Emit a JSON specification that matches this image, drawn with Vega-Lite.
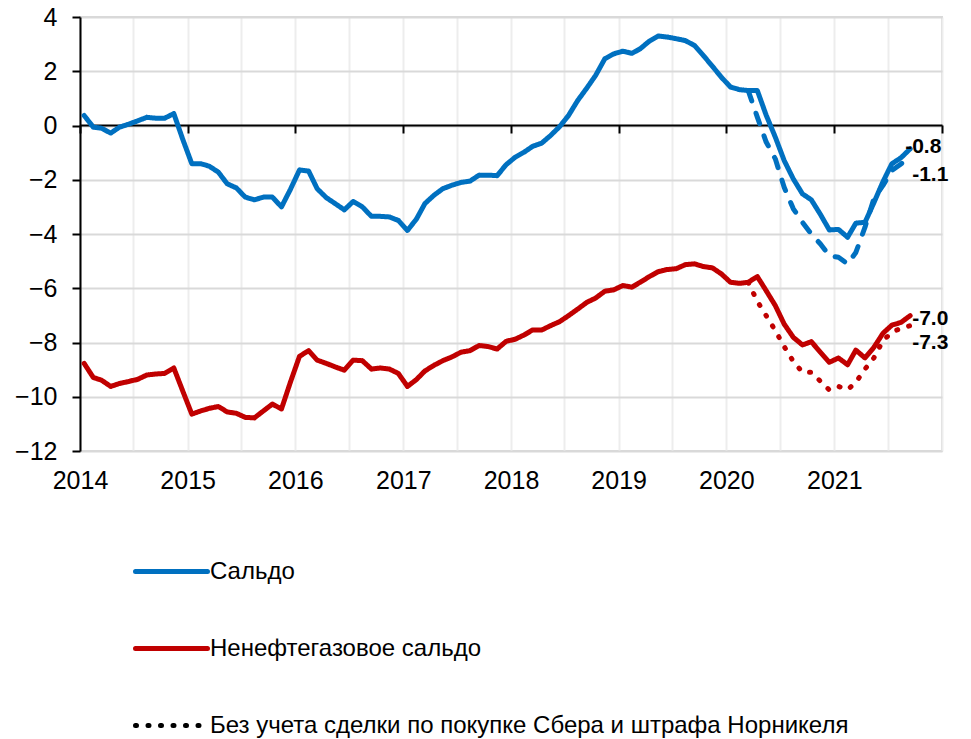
{
  "$schema": "https://vega.github.io/schema/vega-lite/v6.json",
  "width": 862,
  "height": 434,
  "autosize": "none",
  "padding": {"left": 80, "top": 17, "right": 29, "bottom": 288},
  "config": {
    "font": "Liberation Sans",
    "view": {"stroke": "#d9d9d9", "strokeWidth": 2},
    "axis": {"labelColor": "black", "labelFont": "Liberation Sans", "labelFontSize": 25, "title": null}
  },
  "datasets": {
    "main": [
      {"d":"2014-01-15","k":"Сальдо","v":0.37},{"d":"2014-02-15","k":"Сальдо","v":-0.06},{"d":"2014-03-15","k":"Сальдо","v":-0.1},{"d":"2014-04-15","k":"Сальдо","v":-0.28},{"d":"2014-05-15","k":"Сальдо","v":-0.06},{"d":"2014-06-15","k":"Сальдо","v":0.05},{"d":"2014-07-15","k":"Сальдо","v":0.17},{"d":"2014-08-15","k":"Сальдо","v":0.3},{"d":"2014-09-15","k":"Сальдо","v":0.27},{"d":"2014-10-15","k":"Сальдо","v":0.27},{"d":"2014-11-15","k":"Сальдо","v":0.44},{"d":"2014-12-15","k":"Сальдо","v":-0.5},
      {"d":"2015-01-15","k":"Сальдо","v":-1.41},{"d":"2015-02-15","k":"Сальдо","v":-1.41},{"d":"2015-03-15","k":"Сальдо","v":-1.5},{"d":"2015-04-15","k":"Сальдо","v":-1.72},{"d":"2015-05-15","k":"Сальдо","v":-2.15},{"d":"2015-06-15","k":"Сальдо","v":-2.3},{"d":"2015-07-15","k":"Сальдо","v":-2.64},{"d":"2015-08-15","k":"Сальдо","v":-2.74},{"d":"2015-09-15","k":"Сальдо","v":-2.64},{"d":"2015-10-15","k":"Сальдо","v":-2.64},{"d":"2015-11-15","k":"Сальдо","v":-3.0},{"d":"2015-12-15","k":"Сальдо","v":-2.36},
      {"d":"2016-01-15","k":"Сальдо","v":-1.64},{"d":"2016-02-15","k":"Сальдо","v":-1.68},{"d":"2016-03-15","k":"Сальдо","v":-2.33},{"d":"2016-04-15","k":"Сальдо","v":-2.66},{"d":"2016-05-15","k":"Сальдо","v":-2.88},{"d":"2016-06-15","k":"Сальдо","v":-3.11},{"d":"2016-07-15","k":"Сальдо","v":-2.8},{"d":"2016-08-15","k":"Сальдо","v":-3.0},{"d":"2016-09-15","k":"Сальдо","v":-3.35},{"d":"2016-10-15","k":"Сальдо","v":-3.35},{"d":"2016-11-15","k":"Сальдо","v":-3.37},{"d":"2016-12-15","k":"Сальдо","v":-3.5},
      {"d":"2017-01-15","k":"Сальдо","v":-3.87},{"d":"2017-02-15","k":"Сальдо","v":-3.44},{"d":"2017-03-15","k":"Сальдо","v":-2.88},{"d":"2017-04-15","k":"Сальдо","v":-2.57},{"d":"2017-05-15","k":"Сальдо","v":-2.33},{"d":"2017-06-15","k":"Сальдо","v":-2.2},{"d":"2017-07-15","k":"Сальдо","v":-2.1},{"d":"2017-08-15","k":"Сальдо","v":-2.05},{"d":"2017-09-15","k":"Сальдо","v":-1.83},{"d":"2017-10-15","k":"Сальдо","v":-1.83},{"d":"2017-11-15","k":"Сальдо","v":-1.85},{"d":"2017-12-15","k":"Сальдо","v":-1.45},
      {"d":"2018-01-15","k":"Сальдо","v":-1.17},{"d":"2018-02-15","k":"Сальдо","v":-0.98},{"d":"2018-03-15","k":"Сальдо","v":-0.77},{"d":"2018-04-15","k":"Сальдо","v":-0.65},{"d":"2018-05-15","k":"Сальдо","v":-0.37},{"d":"2018-06-15","k":"Сальдо","v":-0.04},{"d":"2018-07-15","k":"Сальдо","v":0.37},{"d":"2018-08-15","k":"Сальдо","v":0.92},{"d":"2018-09-15","k":"Сальдо","v":1.38},{"d":"2018-10-15","k":"Сальдо","v":1.85},{"d":"2018-11-15","k":"Сальдо","v":2.46},{"d":"2018-12-15","k":"Сальдо","v":2.64},
      {"d":"2019-01-15","k":"Сальдо","v":2.74},{"d":"2019-02-15","k":"Сальдо","v":2.66},{"d":"2019-03-15","k":"Сальдо","v":2.83},{"d":"2019-04-15","k":"Сальдо","v":3.11},{"d":"2019-05-15","k":"Сальдо","v":3.3},{"d":"2019-06-15","k":"Сальдо","v":3.26},{"d":"2019-07-15","k":"Сальдо","v":3.2},{"d":"2019-08-15","k":"Сальдо","v":3.13},{"d":"2019-09-15","k":"Сальдо","v":2.95},{"d":"2019-10-15","k":"Сальдо","v":2.58},{"d":"2019-11-15","k":"Сальдо","v":2.18},{"d":"2019-12-15","k":"Сальдо","v":1.78},
      {"d":"2020-01-15","k":"Сальдо","v":1.42},{"d":"2020-02-15","k":"Сальдо","v":1.32},{"d":"2020-03-15","k":"Сальдо","v":1.29},{"d":"2020-04-15","k":"Сальдо","v":1.29},{"d":"2020-05-15","k":"Сальдо","v":0.38},{"d":"2020-06-15","k":"Сальдо","v":-0.43},{"d":"2020-07-15","k":"Сальдо","v":-1.29},{"d":"2020-08-15","k":"Сальдо","v":-1.97},{"d":"2020-09-15","k":"Сальдо","v":-2.52},{"d":"2020-10-15","k":"Сальдо","v":-2.74},{"d":"2020-11-15","k":"Сальдо","v":-3.28},{"d":"2020-12-15","k":"Сальдо","v":-3.85},
      {"d":"2021-01-15","k":"Сальдо","v":-3.83},{"d":"2021-02-15","k":"Сальдо","v":-4.12},{"d":"2021-03-15","k":"Сальдо","v":-3.6},{"d":"2021-04-15","k":"Сальдо","v":-3.57},{"d":"2021-05-15","k":"Сальдо","v":-2.85},{"d":"2021-06-15","k":"Сальдо","v":-2.07},{"d":"2021-07-15","k":"Сальдо","v":-1.41},{"d":"2021-08-15","k":"Сальдо","v":-1.19},{"d":"2021-09-15","k":"Сальдо","v":-0.86},

      {"d":"2014-01-15","k":"Ненефтегазовое сальдо","v":-8.77},{"d":"2014-02-15","k":"Ненефтегазовое сальдо","v":-9.29},{"d":"2014-03-15","k":"Ненефтегазовое сальдо","v":-9.39},{"d":"2014-04-15","k":"Ненефтегазовое сальдо","v":-9.62},{"d":"2014-05-15","k":"Ненефтегазовое сальдо","v":-9.51},{"d":"2014-06-15","k":"Ненефтегазовое сальдо","v":-9.44},{"d":"2014-07-15","k":"Ненефтегазовое сальдо","v":-9.36},{"d":"2014-08-15","k":"Ненефтегазовое сальдо","v":-9.2},{"d":"2014-09-15","k":"Ненефтегазовое сальдо","v":-9.16},{"d":"2014-10-15","k":"Ненефтегазовое сальдо","v":-9.14},{"d":"2014-11-15","k":"Ненефтегазовое сальдо","v":-8.94},{"d":"2014-12-15","k":"Ненефтегазовое сальдо","v":-9.78},
      {"d":"2015-01-15","k":"Ненефтегазовое сальдо","v":-10.64},{"d":"2015-02-15","k":"Ненефтегазовое сальдо","v":-10.52},{"d":"2015-03-15","k":"Ненефтегазовое сальдо","v":-10.43},{"d":"2015-04-15","k":"Ненефтегазовое сальдо","v":-10.36},{"d":"2015-05-15","k":"Ненефтегазовое сальдо","v":-10.56},{"d":"2015-06-15","k":"Ненефтегазовое сальдо","v":-10.61},{"d":"2015-07-15","k":"Ненефтегазовое сальдо","v":-10.76},{"d":"2015-08-15","k":"Ненефтегазовое сальдо","v":-10.78},{"d":"2015-09-15","k":"Ненефтегазовое сальдо","v":-10.52},{"d":"2015-10-15","k":"Ненефтегазовое сальдо","v":-10.27},{"d":"2015-11-15","k":"Ненефтегазовое сальдо","v":-10.45},{"d":"2015-12-15","k":"Ненефтегазовое сальдо","v":-9.47},
      {"d":"2016-01-15","k":"Ненефтегазовое сальдо","v":-8.51},{"d":"2016-02-15","k":"Ненефтегазовое сальдо","v":-8.3},{"d":"2016-03-15","k":"Ненефтегазовое сальдо","v":-8.65},{"d":"2016-04-15","k":"Ненефтегазовое сальдо","v":-8.77},{"d":"2016-05-15","k":"Ненефтегазовое сальдо","v":-8.9},{"d":"2016-06-15","k":"Ненефтегазовое сальдо","v":-9.02},{"d":"2016-07-15","k":"Ненефтегазовое сальдо","v":-8.65},{"d":"2016-08-15","k":"Ненефтегазовое сальдо","v":-8.67},{"d":"2016-09-15","k":"Ненефтегазовое сальдо","v":-8.98},{"d":"2016-10-15","k":"Ненефтегазовое сальдо","v":-8.94},{"d":"2016-11-15","k":"Ненефтегазовое сальдо","v":-8.98},{"d":"2016-12-15","k":"Ненефтегазовое сальдо","v":-9.14},
      {"d":"2017-01-15","k":"Ненефтегазовое сальдо","v":-9.62},{"d":"2017-02-15","k":"Ненефтегазовое сальдо","v":-9.36},{"d":"2017-03-15","k":"Ненефтегазовое сальдо","v":-9.05},{"d":"2017-04-15","k":"Ненефтегазовое сальдо","v":-8.84},{"d":"2017-05-15","k":"Ненефтегазовое сальдо","v":-8.67},{"d":"2017-06-15","k":"Ненефтегазовое сальдо","v":-8.53},{"d":"2017-07-15","k":"Ненефтегазовое сальдо","v":-8.36},{"d":"2017-08-15","k":"Ненефтегазовое сальдо","v":-8.3},{"d":"2017-09-15","k":"Ненефтегазовое сальдо","v":-8.11},{"d":"2017-10-15","k":"Ненефтегазовое сальдо","v":-8.15},{"d":"2017-11-15","k":"Ненефтегазовое сальдо","v":-8.24},{"d":"2017-12-15","k":"Ненефтегазовое сальдо","v":-7.96},
      {"d":"2018-01-15","k":"Ненефтегазовое сальдо","v":-7.88},{"d":"2018-02-15","k":"Ненефтегазовое сальдо","v":-7.72},{"d":"2018-03-15","k":"Ненефтегазовое сальдо","v":-7.54},{"d":"2018-04-15","k":"Ненефтегазовое сальдо","v":-7.54},{"d":"2018-05-15","k":"Ненефтегазовое сальдо","v":-7.38},{"d":"2018-06-15","k":"Ненефтегазовое сальдо","v":-7.23},{"d":"2018-07-15","k":"Ненефтегазовое сальдо","v":-7.01},{"d":"2018-08-15","k":"Ненефтегазовое сальдо","v":-6.77},{"d":"2018-09-15","k":"Ненефтегазовое сальдо","v":-6.52},{"d":"2018-10-15","k":"Ненефтегазовое сальдо","v":-6.36},{"d":"2018-11-15","k":"Ненефтегазовое сальдо","v":-6.11},{"d":"2018-12-15","k":"Ненефтегазовое сальдо","v":-6.06},
      {"d":"2019-01-15","k":"Ненефтегазовое сальдо","v":-5.9},{"d":"2019-02-15","k":"Ненефтегазовое сальдо","v":-5.96},{"d":"2019-03-15","k":"Ненефтегазовое сальдо","v":-5.78},{"d":"2019-04-15","k":"Ненефтегазовое сальдо","v":-5.57},{"d":"2019-05-15","k":"Ненефтегазовое сальдо","v":-5.39},{"d":"2019-06-15","k":"Ненефтегазовое сальдо","v":-5.31},{"d":"2019-07-15","k":"Ненефтегазовое сальдо","v":-5.28},{"d":"2019-08-15","k":"Ненефтегазовое сальдо","v":-5.13},{"d":"2019-09-15","k":"Ненефтегазовое сальдо","v":-5.1},{"d":"2019-10-15","k":"Ненефтегазовое сальдо","v":-5.2},{"d":"2019-11-15","k":"Ненефтегазовое сальдо","v":-5.25},{"d":"2019-12-15","k":"Ненефтегазовое сальдо","v":-5.47},
      {"d":"2020-01-15","k":"Ненефтегазовое сальдо","v":-5.78},{"d":"2020-02-15","k":"Ненефтегазовое сальдо","v":-5.82},{"d":"2020-03-15","k":"Ненефтегазовое сальдо","v":-5.78},{"d":"2020-04-15","k":"Ненефтегазовое сальдо","v":-5.57},{"d":"2020-05-15","k":"Ненефтегазовое сальдо","v":-6.09},{"d":"2020-06-15","k":"Ненефтегазовое сальдо","v":-6.64},{"d":"2020-07-15","k":"Ненефтегазовое сальдо","v":-7.32},{"d":"2020-08-15","k":"Ненефтегазовое сальдо","v":-7.81},{"d":"2020-09-15","k":"Ненефтегазовое сальдо","v":-8.09},{"d":"2020-10-15","k":"Ненефтегазовое сальдо","v":-7.97},{"d":"2020-11-15","k":"Ненефтегазовое сальдо","v":-8.36},{"d":"2020-12-15","k":"Ненефтегазовое сальдо","v":-8.73},
      {"d":"2021-01-15","k":"Ненефтегазовое сальдо","v":-8.57},{"d":"2021-02-15","k":"Ненефтегазовое сальдо","v":-8.82},{"d":"2021-03-15","k":"Ненефтегазовое сальдо","v":-8.28},{"d":"2021-04-15","k":"Ненефтегазовое сальдо","v":-8.57},{"d":"2021-05-15","k":"Ненефтегазовое сальдо","v":-8.18},{"d":"2021-06-15","k":"Ненефтегазовое сальдо","v":-7.66},{"d":"2021-07-15","k":"Ненефтегазовое сальдо","v":-7.36},{"d":"2021-08-15","k":"Ненефтегазовое сальдо","v":-7.26},{"d":"2021-09-15","k":"Ненефтегазовое сальдо","v":-7.01},

      {"d":"2020-03-15","k":"Сальдо без учета","v":1.29},{"d":"2020-04-15","k":"Сальдо без учета","v":0.31},{"d":"2020-05-15","k":"Сальдо без учета","v":-0.61},{"d":"2020-06-15","k":"Сальдо без учета","v":-1.23},{"d":"2020-07-15","k":"Сальдо без учета","v":-2.28},{"d":"2020-08-15","k":"Сальдо без учета","v":-3.07},{"d":"2020-09-15","k":"Сальдо без учета","v":-3.57},{"d":"2020-10-15","k":"Сальдо без учета","v":-4.0},{"d":"2020-11-15","k":"Сальдо без учета","v":-4.37},{"d":"2020-12-15","k":"Сальдо без учета","v":-4.8},{"d":"2021-01-15","k":"Сальдо без учета","v":-4.86},{"d":"2021-02-15","k":"Сальдо без учета","v":-5.1},{"d":"2021-03-15","k":"Сальдо без учета","v":-4.68},{"d":"2021-04-15","k":"Сальдо без учета","v":-3.75},{"d":"2021-05-15","k":"Сальдо без учета","v":-2.7},{"d":"2021-06-15","k":"Сальдо без учета","v":-2.21},{"d":"2021-07-15","k":"Сальдо без учета","v":-1.66},{"d":"2021-08-15","k":"Сальдо без учета","v":-1.42},{"d":"2021-09-15","k":"Сальдо без учета","v":-1.1},

      {"d":"2020-03-15","k":"Ненефтегазовое без учета","v":-5.78},{"d":"2020-04-15","k":"Ненефтегазовое без учета","v":-6.48},{"d":"2020-05-15","k":"Ненефтегазовое без учета","v":-7.01},{"d":"2020-06-15","k":"Ненефтегазовое без учета","v":-7.56},{"d":"2020-07-15","k":"Ненефтегазовое без учета","v":-8.15},{"d":"2020-08-15","k":"Ненефтегазовое без учета","v":-8.7},{"d":"2020-09-15","k":"Ненефтегазовое без учета","v":-9.1},{"d":"2020-10-15","k":"Ненефтегазовое без учета","v":-9.1},{"d":"2020-11-15","k":"Ненефтегазовое без учета","v":-9.43},{"d":"2020-12-15","k":"Ненефтегазовое без учета","v":-9.75},{"d":"2021-01-15","k":"Ненефтегазовое без учета","v":-9.62},{"d":"2021-02-15","k":"Ненефтегазовое без учета","v":-9.74},{"d":"2021-03-15","k":"Ненефтегазовое без учета","v":-9.47},{"d":"2021-04-15","k":"Ненефтегазовое без учета","v":-8.98},{"d":"2021-05-15","k":"Ненефтегазовое без учета","v":-8.57},{"d":"2021-06-15","k":"Ненефтегазовое без учета","v":-7.93},{"d":"2021-07-15","k":"Ненефтегазовое без учета","v":-7.63},{"d":"2021-08-15","k":"Ненефтегазовое без учета","v":-7.47},{"d":"2021-09-15","k":"Ненефтегазовое без учета","v":-7.38}
    ],
    "labels": [
      {"d":"2021-09-15","v":-0.8,"t":"-0.8"},
      {"d":"2021-09-15","v":-1.1,"t":"-1.1"},
      {"d":"2021-09-15","v":-7.0,"t":"-7.0"},
      {"d":"2021-09-15","v":-7.3,"t":"-7.3"}
    ]
  },
  "resolve": {"axis": {"x": "independent"}},
  "layer": [
    {
      "data": {"name": "main"},
      "transform": [{"filter": {"field": "k", "oneOf": ["Сальдо", "Ненефтегазовое сальдо"]}}],
      "mark": {"type": "line", "strokeWidth": 5, "strokeCap": "round", "strokeJoin": "round"},
      "encoding": {
        "x": {
          "field": "d", "type": "temporal",
          "scale": {"type": "utc", "domain": [{"year": 2014, "month": 1, "date": 1, "utc": true}, {"year": 2022, "month": 1, "date": 1, "utc": true}]},
          "axis": {
            "orient": "bottom", "tickCount": {"interval": "month", "step": 6},
            "grid": true, "gridColor": "#ededed", "gridWidth": 2,
            "domain": false, "ticks": false,
            "labelExpr": "utcmonth(datum.value) == 0 && utcyear(datum.value) < 2022 ? utcFormat(datum.value, '%Y') : ''",
            "labelPadding": 17, "labelOverlap": false, "labelFlush": false, "labelBound": false, "title": null
          }
        },
        "y": {
          "field": "v", "type": "quantitative",
          "scale": {"domain": [-12, 4], "nice": false},
          "axis": {
            "values": [-12, -10, -8, -6, -4, -2, 0, 2, 4],
            "grid": true, "gridColor": "#d9d9d9", "gridWidth": 2,
            "domainColor": "black", "domainWidth": 2,
            "tickColor": "black", "tickWidth": 2, "tickSize": 8,
            "labelPadding": 15, "title": null
          }
        },
        "color": {
          "field": "k", "type": "nominal",
          "scale": {"domain": ["Сальдо", "Ненефтегазовое сальдо", "Без учета сделки по покупке Сбера и штрафа Норникеля"], "range": ["#0070C0", "#C00000", "#000000"]},
          "legend": {
            "orient": "none", "legendX": 53, "legendY": 516, "direction": "vertical", "title": null,
            "symbolType": "stroke", "symbolSize": 5184, "symbolStrokeWidth": 5,
            "labelFontSize": 24, "labelColor": "black", "labelFont": "Liberation Sans", "labelOffset": 0, "labelLimit": 800,
            "rowPadding": 26, "padding": 0,
            "encode": {"symbols": {"update": {"strokeCap": {"value": "round"}}}}
          }
        },
        "strokeDash": {
          "field": "k", "type": "nominal",
          "scale": {"domain": ["Сальдо", "Ненефтегазовое сальдо", "Без учета сделки по покупке Сбера и штрафа Норникеля"], "range": [[1, 0], [1, 0], [1, 11.5]]},
          "legend": {
            "orient": "none", "legendX": 53, "legendY": 516, "direction": "vertical", "title": null,
            "symbolType": "stroke", "symbolSize": 5184, "symbolStrokeWidth": 5,
            "labelFontSize": 24, "labelColor": "black", "labelFont": "Liberation Sans", "labelOffset": 0, "labelLimit": 800,
            "rowPadding": 26, "padding": 0,
            "encode": {"symbols": {"update": {"strokeCap": {"value": "round"}}}}
          }
        }
      }
    },
    {
      "data": {"name": "main"},
      "transform": [{"filter": {"field": "k", "equal": "Сальдо без учета"}}],
      "mark": {"type": "line", "color": "#0070C0", "strokeWidth": 5, "strokeDash": [11, 13], "strokeCap": "round", "strokeJoin": "round"},
      "encoding": {
        "x": {
          "field": "d", "type": "temporal",
          "scale": {"type": "utc", "domain": [{"year": 2014, "month": 1, "date": 1, "utc": true}, {"year": 2022, "month": 1, "date": 1, "utc": true}]},
          "axis": {
            "orient": "top", "offset": -108, "tickCount": {"interval": "year", "step": 1},
            "grid": false, "labels": false,
            "domain": true, "domainColor": "black", "domainWidth": 2,
            "ticks": true, "tickColor": "black", "tickWidth": 2, "tickSize": -8, "title": null
          }
        },
        "y": {"field": "v", "type": "quantitative"}
      }
    },
    {
      "data": {"name": "main"},
      "transform": [{"filter": {"field": "k", "equal": "Ненефтегазовое без учета"}}],
      "mark": {"type": "line", "color": "#C00000", "strokeWidth": 5, "strokeDash": [1, 11.5], "strokeCap": "round", "strokeJoin": "round"},
      "encoding": {
        "x": {"field": "d", "type": "temporal", "axis": null},
        "y": {"field": "v", "type": "quantitative"}
      }
    },
    {
      "data": {"name": "labels"},
      "transform": [{"filter": {"field": "t", "equal": "-0.8"}}],
      "mark": {"type": "text", "align": "left", "baseline": "middle", "dx": -5, "dy": 0, "fontSize": 21, "fontWeight": "bold", "color": "black"},
      "encoding": {
        "x": {"field": "d", "type": "temporal", "axis": null},
        "y": {"field": "v", "type": "quantitative"},
        "text": {"field": "t"}
      }
    },
    {
      "data": {"name": "labels"},
      "transform": [{"filter": {"field": "t", "equal": "-1.1"}}],
      "mark": {"type": "text", "align": "left", "baseline": "middle", "dx": 2, "dy": 20, "fontSize": 21, "fontWeight": "bold", "color": "black"},
      "encoding": {
        "x": {"field": "d", "type": "temporal", "axis": null},
        "y": {"field": "v", "type": "quantitative"},
        "text": {"field": "t"}
      }
    },
    {
      "data": {"name": "labels"},
      "transform": [{"filter": {"field": "t", "equal": "-7.0"}}],
      "mark": {"type": "text", "align": "left", "baseline": "middle", "dx": 2, "dy": 4, "fontSize": 21, "fontWeight": "bold", "color": "black"},
      "encoding": {
        "x": {"field": "d", "type": "temporal", "axis": null},
        "y": {"field": "v", "type": "quantitative"},
        "text": {"field": "t"}
      }
    },
    {
      "data": {"name": "labels"},
      "transform": [{"filter": {"field": "t", "equal": "-7.3"}}],
      "mark": {"type": "text", "align": "left", "baseline": "middle", "dx": 2, "dy": 19, "fontSize": 21, "fontWeight": "bold", "color": "black"},
      "encoding": {
        "x": {"field": "d", "type": "temporal", "axis": null},
        "y": {"field": "v", "type": "quantitative"},
        "text": {"field": "t"}
      }
    }
  ]
}
